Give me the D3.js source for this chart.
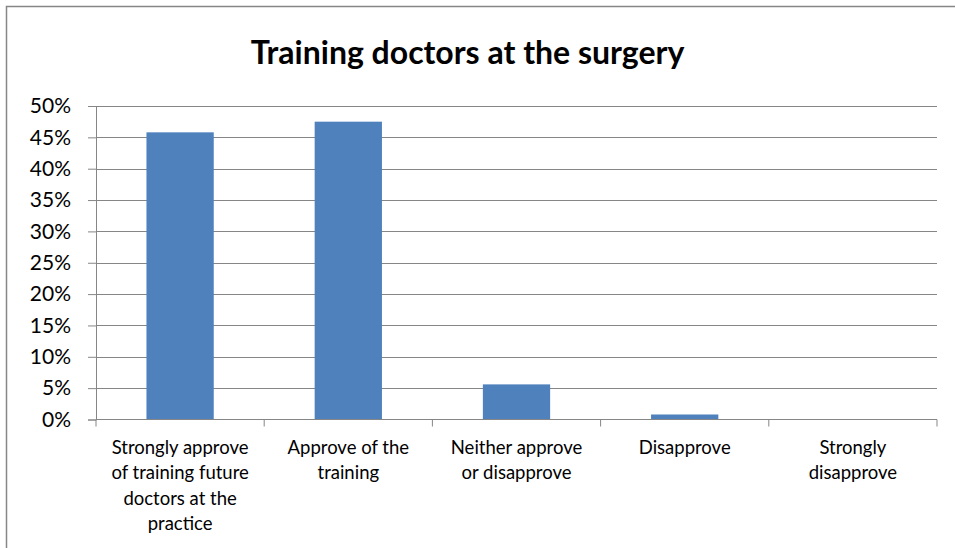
<!DOCTYPE html>
<html>
<head>
<meta charset="utf-8">
<script src="https://cdn.jsdelivr.net/npm/d3@7"></script>
<style>
  body { margin: 0; background: #fff; }
  text { font-family: "Open Sans", Lato, sans-serif; fill: #000; }
</style>
</head>
<body>
<div id="chart"></div>
<script>
// data
const categories = [
  "Strongly approve of training future doctors at the practice",
  "Approve of the training",
  "Neither approve or disapprove",
  "Disapprove",
  "Strongly disapprove"
];
const labelLines = [
  ["Strongly approve", "of training future", "doctors at the", "practice"],
  ["Approve of the", "training"],
  ["Neither approve", "or disapprove"],
  ["Disapprove"],
  ["Strongly", "disapprove"]
];
const values = [0.458, 0.475, 0.056, 0.008, 0];
const yTicks = [0, 0.05, 0.1, 0.15, 0.2, 0.25, 0.3, 0.35, 0.4, 0.45, 0.5];

const W = 955, H = 548;
const margin = {top: 106, right: 18, bottom: 128.5, left: 96};
const width = W - margin.left - margin.right,
    height = H - margin.top - margin.bottom;

const svg = d3.select("#chart").append("svg")
    .attr("width", W)
    .attr("height", H);

// outer chart border (only top/left show in the crop)
svg.append("rect")
    .attr("x", 6.5).attr("y", 6.5)
    .attr("width", W + 10).attr("height", H + 10)
    .attr("fill", "none")
    .attr("stroke", "#868686")
    .attr("stroke-width", 1.5);

svg.append("text")
    .attr("x", 467.5).attr("y", 64)
    .attr("text-anchor", "middle")
    .style("font-family", "Lato, sans-serif")
    .style("font-size", "32px")
    .style("font-weight", "bold")
    .text("Training doctors at the surgery");

const g = svg.append("g")
    .attr("transform", `translate(${margin.left},${margin.top})`);

const x = d3.scaleBand()
    .domain(categories)
    .range([0, width])
    .paddingInner(0.6)
    .paddingOuter(0.3);

// outer band for tick positions
const xb = d3.scaleBand().domain(categories).range([0, width]);

const y = d3.scaleLinear()
    .domain([0, 0.5])
    .range([height, 0]);

// gridlines
g.append("g")
    .selectAll("line")
    .data(yTicks.filter(d => d > 0))
    .enter().append("line")
    .attr("x1", 0).attr("x2", width)
    .attr("y1", d => Math.round(y(d)) + 0.5)
    .attr("y2", d => Math.round(y(d)) + 0.5)
    .attr("stroke", "#868686")
    .attr("stroke-width", 1);

// bars
g.selectAll(".bar")
    .data(values)
    .enter().append("rect")
    .attr("class", "bar")
    .attr("x", (d, i) => x(categories[i]))
    .attr("width", x.bandwidth())
    .attr("y", d => y(d))
    .attr("height", d => height - y(d))
    .attr("fill", "#4F81BD");

// y axis
const yAxis = g.append("g")
    .call(d3.axisLeft(y).tickValues(yTicks).tickFormat(d3.format(".0%")).tickSize(8).tickPadding(17));
yAxis.select(".domain").attr("stroke", "#868686");
yAxis.selectAll(".tick line").attr("stroke", "#868686");
yAxis.selectAll(".tick text")
    .style("font-size", "21px")
    .style("font-family", "Lato, sans-serif")
    .attr("fill", "#000");

// x axis line and category ticks
const xAxis = g.append("g").attr("transform", `translate(0,${height})`);
xAxis.append("line")
    .attr("x1", 0).attr("x2", width)
    .attr("y1", 0).attr("y2", 0)
    .attr("stroke", "#868686");
xAxis.selectAll(".xt")
    .data(categories.map(c => xb(c)).concat([width]))
    .enter().append("line")
    .attr("x1", d => d).attr("x2", d => d)
    .attr("y1", 0).attr("y2", 7)
    .attr("stroke", "#868686");

// wrapped category labels
const labels = xAxis.selectAll(".lab")
    .data(categories)
    .enter().append("text")
    .attr("text-anchor", "middle")
    .style("font-family", "Lato, sans-serif")
    .style("font-size", "18.5px")
    .attr("transform", d => `translate(${xb(d) + xb.bandwidth() / 2},0)`);
labels.selectAll("tspan")
    .data((d, i) => labelLines[i])
    .enter().append("tspan")
    .attr("x", 0)
    .attr("y", (d, i) => 34 + i * 25.5)
    .text(d => d);
</script>
</body>
</html>
